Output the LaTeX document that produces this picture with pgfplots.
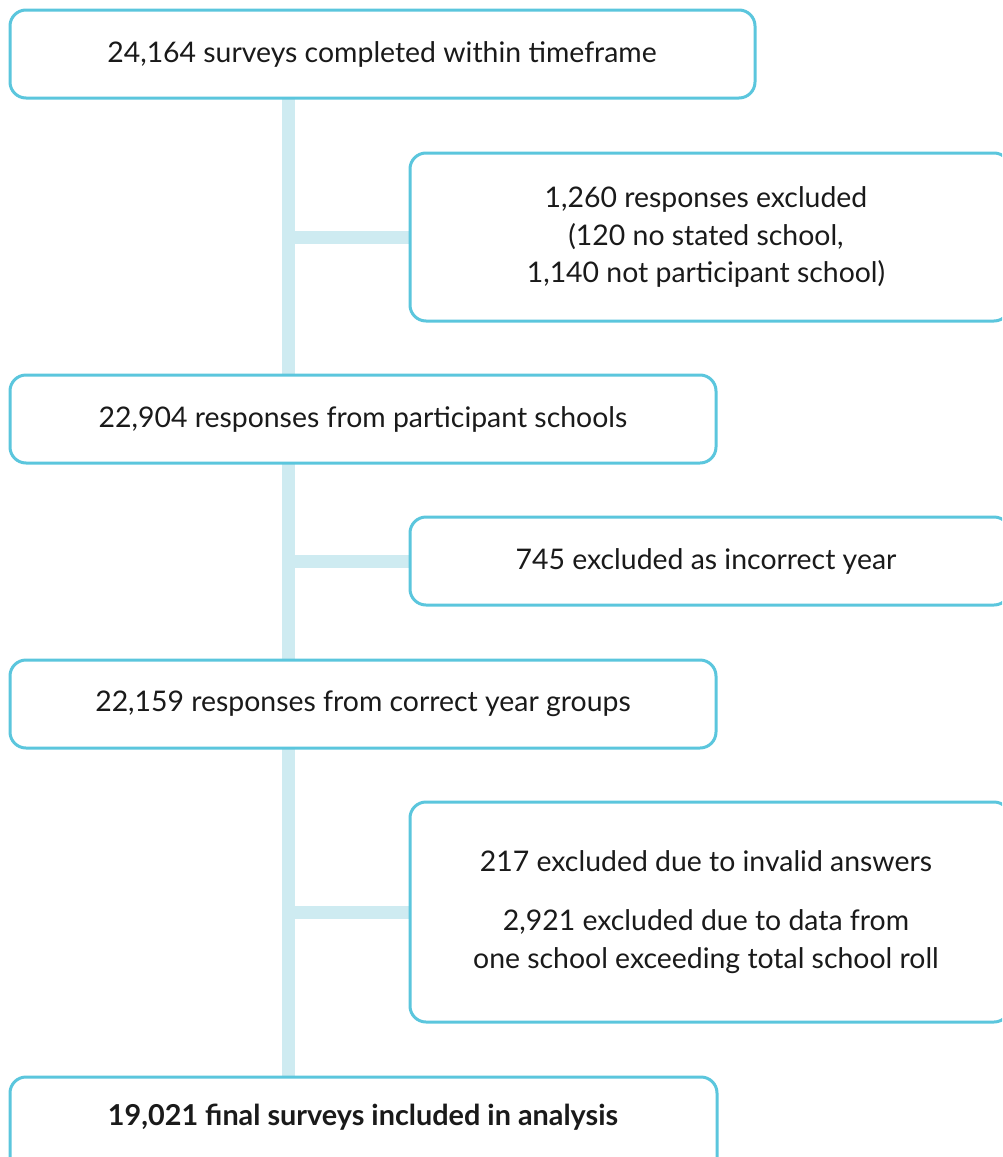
\documentclass[border=0pt]{standalone}
\usepackage{pgfplots}
\pgfplotsset{compat=1.18}
\usepackage{fontspec}
\setmainfont{Lato}
\definecolor{bord}{HTML}{5BC6DD}
\definecolor{conn}{HTML}{CEEBF1}
\definecolor{txt}{HTML}{1A1A1A}
\begin{document}
\begin{tikzpicture}
\begin{axis}[scale only axis, width=501pt, height=578.5pt,
  xmin=0, xmax=1002, ymin=0, ymax=1157, y dir=reverse,
  hide axis, clip=true]
\addplot[conn, line width=6.5pt, forget plot] coordinates {(288,98) (288,1077)};
\addplot[conn, line width=6.5pt, forget plot] coordinates {(288,237) (412,237)};
\addplot[conn, line width=6.5pt, forget plot] coordinates {(288,561) (412,561)};
\addplot[conn, line width=6.5pt, forget plot] coordinates {(288,912) (412,912)};
\tikzset{bx/.style={draw=bord, line width=1.5pt, rounded corners=8pt, fill=white}}
\tikzset{tx/.style={text=txt, font=\fontsize{14.2}{18.75}\selectfont, align=center}}
\draw[bx] (axis cs:10,10) rectangle (axis cs:755,98);
\draw[bx] (axis cs:410,153) rectangle (axis cs:1010,321);
\draw[bx] (axis cs:10,375) rectangle (axis cs:716,463);
\draw[bx] (axis cs:410,517) rectangle (axis cs:1010,605);
\draw[bx] (axis cs:10,660) rectangle (axis cs:716,748);
\draw[bx] (axis cs:410,802) rectangle (axis cs:1010,1022);
\draw[bx] (axis cs:10,1077) rectangle (axis cs:717,1180);
\node[tx] at (axis cs:382,54) {24,164 surveys completed within timeframe};
\node[tx] at (axis cs:706,237) {1,260 responses excluded\\(120 no stated school,\\1,140 not participant school)};
\node[tx] at (axis cs:363,419) {22,904 responses from participant schools};
\node[tx] at (axis cs:706,561) {745 excluded as incorrect year};
\node[tx] at (axis cs:363,704) {22,159 responses from correct year groups};
\node[tx] at (axis cs:706,912) {217 excluded due to invalid answers\\[11pt]2,921 excluded due to data from\\one school exceeding total school roll};
\node[tx, font=\fontsize{14.4}{18.75}\selectfont\bfseries] at (axis cs:363,1117) {19,021 final surveys included in analysis};
\end{axis}
\pgfresetboundingbox
\path[use as bounding box] (current axis.south west) rectangle (current axis.north east);
\end{tikzpicture}
\end{document}
